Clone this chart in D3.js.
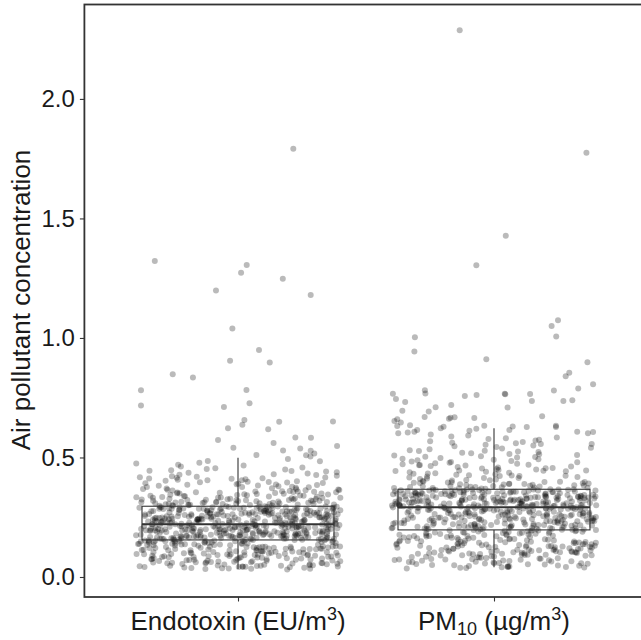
<!DOCTYPE html>
<html><head><meta charset="utf-8">
<script src="https://cdn.jsdelivr.net/npm/d3@7"></script>
<style>body{margin:0;background:#fff}svg{display:block}</style>
</head><body>
<svg id="c" width="641" height="640"></svg>
<script>
const categories = ["Endotoxin", "PM10"];
const yTicks = [0, 0.5, 1.0, 1.5, 2.0];
const yDomain = [-0.0837, 2.395];

// box statistics
const boxQ1 = [0.155, 0.197];
const boxMedian = [0.2205, 0.2916];
const boxQ3 = [0.296, 0.367];
const whiskerLow = [0.033, 0.0405];
const whiskerHigh = [0.499, 0.622];

// Endotoxin: dense bulk values
const endoValues = [
.031,.034,.036,.038,.039,.041,.042,.043,.044,.045,.046,.047,.048,.049,.033,.037,.040,.044,.047,.049,.035,.042,
.051,.053,.054,.056,.057,.058,.060,.061,.062,.063,.065,.066,.067,.068,.069,.070,.071,.072,.073,.074,.075,.076,.077,.078,.079,.052,.055,.059,.064,.068,.071,.074,.077,.062,.057,
.081,.082,.083,.084,.085,.086,.087,.088,.089,.090,.091,.092,.093,.094,.095,.096,.097,.098,.099,.100,.101,.102,.103,.104,.105,.106,.107,.108,.109,.084,.088,.092,.096,.099,.103,.106,.101,.094,.087,.091,
.111,.112,.113,.114,.115,.116,.117,.118,.119,.120,.121,.122,.123,.124,.125,.126,.127,.128,.129,.113,.116,.119,.122,.125,.128,.111,.118,.124,.127,.121,
.131,.132,.133,.134,.135,.136,.137,.138,.139,.140,.141,.142,.143,.144,.145,.146,.147,.148,.149,.150,.151,.152,.153,.154,.133,.136,.139,.142,.145,.148,.151,.154,.138,.144,.150,
.155,.156,.157,.157,.158,.159,.160,.161,.161,.162,.163,.164,.165,.166,.166,.167,.168,.169,.170,.171,.171,.172,.173,.174,.175,.176,.176,.177,.178,.179,.180,.181,.181,.182,.183,.184,.185,.186,.186,.187,.188,.189,.190,.191,.191,.192,.193,.194,.195,.196,.196,.197,.198,.199,.200,.201,.201,.202,.203,.204,.205,.206,.206,.207,.208,.209,.210,.211,.211,.212,.213,.214,.215,.216,.216,.217,.218,.219,.220,.221,.221,.222,
.155,.158,.160,.162,.163,.165,.167,.168,.170,.172,.173,.175,.177,.178,.180,.182,.183,.185,.187,.188,.190,.192,.193,.195,.197,.198,.200,.202,.203,.205,.207,.208,.210,.212,.213,.215,.217,.218,.220,.222,
.156,.159,.164,.169,.174,.179,.184,.189,.194,.199,.204,.209,.214,.219,.157,.161,.166,.171,.176,.181,.186,.191,.196,.201,.206,.211,.216,.221,.160,.170,.180,.190,.200,.210,.215,.185,.175,.195,.205,.165,.212,
.223,.224,.225,.226,.227,.228,.229,.230,.231,.232,.233,.234,.235,.236,.237,.238,.239,.240,.241,.242,.243,.244,.245,.246,.247,.248,.249,.250,.251,.252,.253,.254,.255,.256,.257,.258,.259,.260,.261,.262,.263,.264,.265,.266,.267,.268,.269,.270,.271,.272,.273,.274,.275,.276,.277,.278,.279,.280,.281,.282,.283,.284,.285,.286,.287,.288,.289,.290,.291,.292,.293,.294,.295,.296,
.224,.226,.228,.230,.232,.234,.236,.238,.240,.242,.244,.246,.248,.250,.252,.254,.256,.258,.260,.262,.264,.266,.268,.270,.272,.274,.276,.278,.280,.282,.284,.286,.288,.290,.292,.294,.296,
.225,.229,.233,.237,.241,.245,.249,.253,.257,.261,.265,.269,.273,.277,.281,.285,.289,.293,.227,.235,.243,.251,.259,.267,.275,.283,.291,.231,.247,.263,.279,.295,.239,.255,.271,.287,.222,.298,.286,.268,.244,.232,.258,.274,.290,.236,.252,.228,.262,.280,.246,
.298,.299,.300,.301,.302,.303,.304,.305,.306,.307,.308,.309,.310,.311,.312,.313,.314,.315,.316,.317,.318,.319,.320,.321,.322,.323,.324,.325,.326,.327,.328,.329,.300,.303,.306,.309,.312,.315,.318,.321,.324,.327,.302,.311,.319,
.330,.331,.332,.333,.334,.335,.336,.337,.338,.339,.340,.341,.342,.343,.344,.345,.346,.347,.348,.349,.350,.351,.352,.353,.354,.355,.356,.357,.358,.359,
.360,.362,.363,.365,.366,.368,.370,.371,.373,.375,.376,.378,.380,.382,.383,.385,.387,.388,.390,.392,.393,.395,.397,.398,.364,
.401,.403,.405,.407,.409,.411,.413,.415,.417,.419,.421,.424,.427,.430,.433,.436,.438,.412,
.441,.444,.447,.450,.452,.455,.458,.462,.466,.470,.475,
.043,.052,.061,.066,.072,.079,.083,.089,.095,.098,.104,.108,.112,.117,.121,.126,.130,.134,.137,.141,.146,.149,.152,.153,.047,
.158,.163,.168,.172,.176,.181,.185,.189,.193,.197,.201,.205,.208,.212,.216,.219,.223,.227,.231,.236,.240,.245,.249,.254,.258,.263,.267,.272,.276,.281,.285,.289,.292,.295,.170,.200,.230,.260,.250,.210,
.305,.313,.322,.331,.340,.349,.358,.367,.377,.386,.396,.405,.416,.428,.443
];
// Endotoxin: sparse upper points [jitter offset (category units), value]
const endoOutliers = [
[0.216,1.792],[-0.325,1.322],[0.034,1.305],[0.012,1.273],[0.175,1.248],[-0.086,1.199],[0.284,1.180],
[-0.022,1.040],[0.082,0.950],[-0.031,0.905],[0.124,0.897],[-0.255,0.848],[-0.176,0.835],[-0.379,0.781],
[0.033,0.782],[-0.379,0.717],[0.045,0.727],[-0.055,0.711],[0.025,0.657],[0.017,0.637],[-0.039,0.622],
[0.161,0.649],[0.118,0.618],[0.371,0.650],[-0.078,0.573],[0.224,0.584],[0.285,0.582],[0.139,0.561],
[0.387,0.548],[-0.018,0.541],[0.243,0.538],[0.176,0.529],[0.284,0.528],[0.298,0.517],[0.266,0.509],
[0.283,0.504],[0.320,0.484],[0.072,0.510],[0.195,0.494],[-0.151,0.478],[-0.118,0.485]
];

// PM10: dense bulk values
const pmValues = [
.036,.038,.039,.040,.041,.042,.043,.044,.045,.046,.047,.048,.050,.052,.053,.055,.056,.057,.058,.059,
.061,.062,.063,.064,.066,.067,.068,.069,.070,.071,.072,.073,.074,.075,.076,.077,.078,.079,.081,.082,.083,.084,.086,.087,.089,
.090,.091,.092,.093,.094,.095,.096,.097,.098,.099,.100,.101,.102,.103,.104,.105,.106,.107,.108,.109,.110,.111,.112,.113,.114,.115,.116,.117,.118,.119,.093,.098,.103,.108,.113,
.120,.121,.122,.123,.124,.125,.126,.127,.128,.129,.130,.131,.132,.133,.134,.135,.136,.137,.138,.139,.140,.141,.142,.143,.144,.145,.146,.147,.148,.149,.123,.128,.133,.138,.143,
.150,.151,.152,.153,.154,.155,.156,.157,.158,.159,.160,.161,.162,.163,.164,.165,.166,.167,.168,.169,.170,.171,.172,.173,.174,.175,.176,.177,.178,.179,.180,.181,.182,.183,.184,.185,.186,.187,.188,.189,.190,.191,.192,.193,.194,.195,.185,
.196,.197,.198,.199,.200,.201,.202,.203,.204,.205,.206,.207,.208,.209,.210,.211,.212,.213,.214,.215,.216,.217,.218,.219,.220,.221,.222,.223,.224,.225,.226,.227,.228,.229,.230,.231,.232,.233,.234,.235,.236,.237,.238,.239,.240,.241,.242,.243,.244,.245,.246,.247,.248,.249,.250,.251,.252,.253,.254,.255,.256,.257,.258,.259,.260,.261,.262,.263,.264,.265,.266,.267,.268,.269,.270,.271,.272,.273,.274,.275,.276,.277,.278,.279,.280,.281,.282,.283,.284,.285,.286,.287,.288,.289,.290,.291,.292,
.198,.201,.204,.207,.210,.213,.216,.219,.222,.225,.228,.231,.234,.237,.240,.243,.246,.249,.252,.255,.258,.261,.264,.267,.270,.273,.276,.279,.282,.285,.288,.291,
.197,.202,.206,.211,.215,.220,.224,.229,.233,.238,.242,.247,.251,.256,.260,.265,.269,.274,.278,.283,.287,.290,.292,.289,.286,.280,.271,.262,.253,.244,.235,.226,.217,.208,
.293,.294,.295,.296,.297,.298,.299,.300,.301,.302,.303,.304,.305,.306,.307,.308,.309,.310,.311,.312,.313,.314,.315,.316,.317,.318,.319,.320,.321,.322,.323,.324,.325,.326,.327,.328,.329,.330,.331,.332,.333,.334,.335,.336,.337,.338,.339,.340,.341,.342,.343,.344,.345,.346,.347,.348,.349,.350,.351,.352,.353,.354,.355,.356,.357,.358,.359,.360,.361,.362,.363,.364,.365,.366,.367,
.2935,.2945,.2955,.2965,.2975,.2985,.2995,.3005,.3015,.3025,.3035,.3045,.3055,.3065,.3075,.3085,.3095,.3105,.3115,.3125,.3135,.3145,.3155,.3165,.3175,.3185,.3195,.3205,.3215,.3225,.3235,.3245,.3255,.3265,.3275,.3285,.3295,.3305,.3315,.3325,.3335,.3345,.3355,.3365,.3375,.3385,.3395,.3405,.3415,.3425,.3435,.3445,.3455,.3465,.3475,.3485,.3495,.3505,.3515,.3525,.3535,.3545,.3555,.3565,.3575,.3585,.3595,.3605,.3615,.3625,.3635,.3645,.3655,.3665,.3675,
.295,.300,.305,.310,.315,.320,.325,.330,.335,.340,.290,.292,
.369,.370,.371,.372,.373,.374,.375,.376,.377,.378,.379,.380,.381,.382,.383,.384,.385,.386,.387,.388,.389,.390,.391,.392,.393,.394,.395,.396,.397,.398,.400,.402,.404,.406,.408,.410,.412,.414,.416,.418,
.420,.422,.424,.426,.428,.430,.432,.434,.436,.438,.440,.442,.444,.446,.448,.450,.452,.454,.456,.458,.460,.462,.464,.466,.468,.470,.472,.474,.476,.478,.425,.445,
.480,.483,.485,.488,.490,.493,.495,.498,.500,.503,.505,.508,.510,.513,.515,.518,.520,.523,.525,.528,.530,.534,.538,
.541,.544,.547,.550,.553,.556,.559,.562,.565,.568,.571,.574,.577,.580,.584,.588,.592,.596,
.042,.049,.054,.065,.073,.085,.091,.097,.104,.111,.118,.124,.131,.137,.142,.147,.153,.158,.164,.171,.176,.182,.188,.191,.194,
.199,.205,.212,.218,.226,.233,.241,.248,.254,.261,.268,.275,.281,.287,.291,.293,.295,.297,.299,.302,.306,.310,.314,.318,.322,.326,.330,.334,.338,.342,.346,.350,.354,.358,.362,.366,.296,.300,.288,.285,
.372,.381,.389,.397,.405,.414,.423,.433,.443,.455,.467,.481,.502,.527,.556
];
// PM10: sparse upper points [jitter offset (category units), value]
const pmOutliers = [
[-0.134,2.287],[0.361,1.775],[0.046,1.428],[-0.069,1.304],[0.250,1.074],[0.225,1.050],[0.243,1.006],
[-0.309,1.003],[-0.311,0.943],[-0.030,0.911],[0.365,0.898],[0.294,0.854],[0.280,0.840],[0.387,0.806],
[0.329,0.789],[0.234,0.780],[-0.395,0.767],[-0.383,0.745],[-0.270,0.781],[-0.268,0.768],[-0.347,0.732],
[0.042,0.767],[0.044,0.765],[-0.114,0.757],[-0.068,0.761],[0.141,0.766],[0.148,0.736],[0.271,0.736],
[0.306,0.739],[-0.358,0.695],[-0.167,0.720],[-0.228,0.710],[-0.255,0.692],[0.053,0.709],[0.188,0.672],
[-0.271,0.669],[-0.154,0.668],[-0.176,0.662],[-0.170,0.666],[-0.077,0.665],[-0.389,0.653],[-0.378,0.660],
[-0.364,0.646],[-0.378,0.632],[-0.328,0.635],[-0.300,0.615],[-0.311,0.608],[-0.337,0.604],[-0.374,0.601],
[0.128,0.628],[0.242,0.633],[0.242,0.628],[0.073,0.630],[0.060,0.615],[-0.208,0.622],[-0.197,0.629],
[-0.096,0.612],[-0.069,0.620],[-0.038,0.633],[0.325,0.608],[0.367,0.601],[0.387,0.607]
];

const FONT = "'Liberation Sans', Arial, Helvetica, sans-serif";
const svg = d3.select("#c");
const panel = {left: 84.4, right: 647.6, top: 4.5, bottom: 597};

const x = d3.scalePoint().domain(categories).range([panel.left, panel.right]).padding(0.6);
const step = x.step();
const y = d3.scaleLinear().domain(yDomain).range([panel.bottom, panel.top]);

// deterministic jitter for the dense bulk
function jit(i, s) {
  const t = Math.sin((i + 1) * 12.9898 + s * 78.233) * 43758.5453;
  return (t - Math.floor(t) - 0.5) * 0.8;
}

const points = [];
endoValues.forEach((v, i) => points.push({c: categories[0], j: jit(i, 1), v}));
endoOutliers.forEach(([j, v]) => points.push({c: categories[0], j, v}));
pmValues.forEach((v, i) => points.push({c: categories[1], j: jit(i, 2), v}));
pmOutliers.forEach(([j, v]) => points.push({c: categories[1], j, v}));

svg.append("g").selectAll("circle").data(points).join("circle")
  .attr("cx", d => x(d.c) + d.j * step)
  .attr("cy", d => y(d.v))
  .attr("r", 3)
  .attr("fill", "#000")
  .attr("fill-opacity", 0.27);

// boxplots
const boxes = categories.map((c, i) => ({c, q1: boxQ1[i], med: boxMedian[i], q3: boxQ3[i], lo: whiskerLow[i], hi: whiskerHigh[i]}));
const bw = 0.75 * step;
const bg = svg.append("g").attr("stroke", "#333").attr("fill", "none");
boxes.forEach(b => {
  const cx = x(b.c);
  bg.append("line").attr("x1", cx).attr("x2", cx).attr("y1", y(b.q3)).attr("y2", y(b.hi)).attr("stroke-width", 1.1);
  bg.append("line").attr("x1", cx).attr("x2", cx).attr("y1", y(b.q1)).attr("y2", y(b.lo)).attr("stroke-width", 1.1);
  bg.append("rect").attr("x", cx - bw / 2).attr("width", bw)
    .attr("y", y(b.q3)).attr("height", y(b.q1) - y(b.q3)).attr("stroke-width", 1.1);
  bg.append("line").attr("x1", cx - bw / 2).attr("x2", cx + bw / 2)
    .attr("y1", y(b.med)).attr("y2", y(b.med)).attr("stroke-width", 2);
});

// panel border
svg.append("rect").attr("x", panel.left).attr("y", panel.top)
  .attr("width", panel.right - panel.left).attr("height", panel.bottom - panel.top)
  .attr("fill", "none").attr("stroke", "#333").attr("stroke-width", 1.8);

// y axis
const ya = svg.append("g").attr("transform", `translate(${panel.left},0)`)
  .call(d3.axisLeft(y).tickValues(yTicks).tickFormat(d3.format(".1f")).tickSize(4.5).tickPadding(5));
ya.select(".domain").remove();
ya.selectAll(".tick line").attr("stroke", "#333").attr("stroke-width", 1.1);
ya.selectAll(".tick text").attr("font-family", FONT).attr("font-size", 24).attr("fill", "#1a1a1a");

// x axis
const xa = svg.append("g").attr("transform", `translate(0,${panel.bottom})`)
  .call(d3.axisBottom(x).tickSize(4.5).tickFormat(""));
xa.select(".domain").remove();
xa.selectAll(".tick line").attr("stroke", "#333").attr("stroke-width", 1.1);

const labY = 630;
const t1 = svg.append("text").attr("x", x(categories[0])).attr("y", labY)
  .attr("text-anchor", "middle").attr("font-family", FONT).attr("font-size", 26).attr("fill", "#1a1a1a");
t1.append("tspan").text("Endotoxin (EU/m");
t1.append("tspan").attr("font-size", 18).attr("dy", -10).text("3");
t1.append("tspan").attr("dy", 10).text(")");

const t2 = svg.append("text").attr("x", x(categories[1])).attr("y", labY)
  .attr("text-anchor", "middle").attr("font-family", FONT).attr("font-size", 26).attr("fill", "#1a1a1a");
t2.append("tspan").text("PM");
t2.append("tspan").attr("font-size", 18).attr("dy", 5).text("10");
t2.append("tspan").attr("dy", -5).text(" (µg/m");
t2.append("tspan").attr("font-size", 18).attr("dy", -10).text("3");
t2.append("tspan").attr("dy", 10).text(")");

// y title
svg.append("text").attr("transform", "translate(30,300) rotate(-90)")
  .attr("text-anchor", "middle").attr("font-family", FONT).attr("font-size", 26).attr("fill", "#1a1a1a")
  .text("Air pollutant concentration");
</script>
</body></html>
